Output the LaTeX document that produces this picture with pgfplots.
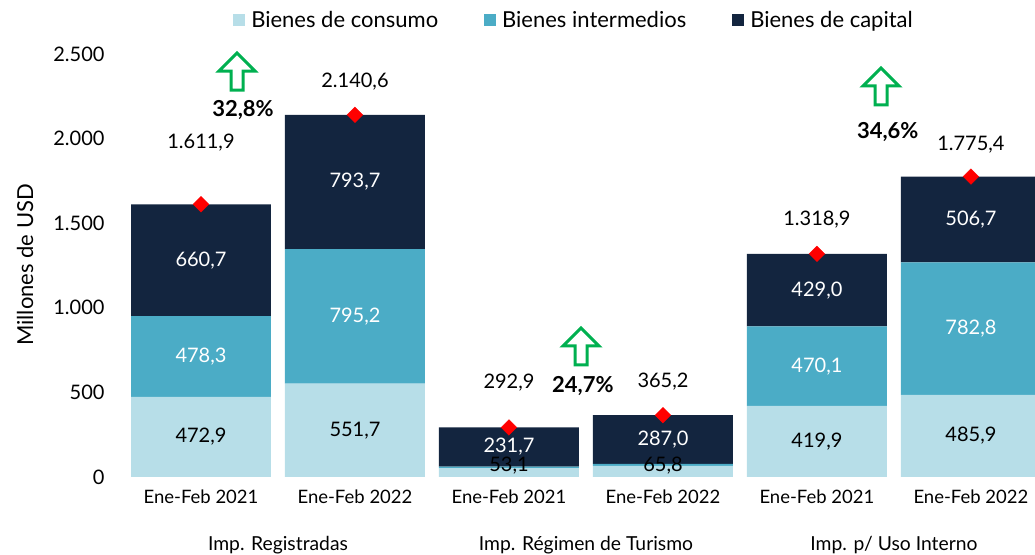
\documentclass[border=0pt]{standalone}
\usepackage{pgfplots}
\pgfplotsset{compat=1.18}
\usepackage{fontspec}
\setmainfont{Lato}

\definecolor{consumo}{HTML}{B7DEE8}
\definecolor{interm}{HTML}{4BACC6}
\definecolor{capital}{HTML}{13253F}
\definecolor{verde}{HTML}{00B050}

\newcommand{\fa}{\fontsize{20bp}{24bp}\selectfont}
\newcommand{\fb}{\fontsize{18.5bp}{22bp}\selectfont}
\newcommand{\fc}{\fontsize{22bp}{26bp}\selectfont}
\newcommand{\fd}{\fontsize{19.3bp}{23bp}\selectfont}

\pgfplotsset{
  base/.style={
    at={(124bp,78bp)}, anchor=south west,
    scale only axis, width=911bp, height=423bp,
    xmin=-0.5, xmax=5.416, ymin=0, ymax=2500,
  },
}
\tikzset{
  flecha/.pic={
    \draw[draw=verde, line width=3bp, fill=white, line join=miter]
      (-6bp,0)--(6bp,0)--(6bp,19bp)--(18bp,19bp)--(0,37bp)--(-18bp,19bp)--(-6bp,19bp)--cycle;
  },
}

\begin{document}
\begin{tikzpicture}
\useasboundingbox (0,0) rectangle (1035bp,555bp);

% barras apiladas
\begin{axis}[base,
    ybar stacked, bar width=0.909,
    axis line style={draw=none}, tick style={draw=none},
    ytick={0,500,...,2500}, scaled y ticks=false,
    yticklabel style={font=\fa, xshift=-16bp,
      /pgf/number format/.cd, 1000 sep={.}, assume math mode=true},
    xtick={0,...,5},
    xticklabels={Ene-Feb 2021,Ene-Feb 2022,Ene-Feb 2021,Ene-Feb 2022,Ene-Feb 2021,Ene-Feb 2022},
    xticklabel style={font=\fb, yshift=-9bp},
    legend columns=3,
    legend style={draw=none, fill=none, font=\fc, at={(0.494,1.080)}, anchor=center,
      /tikz/every even column/.append style={column sep=44bp}},
    legend image code/.code={\fill[#1] (0bp,-6bp) rectangle (12bp,6bp); \path (16bp,0);},
  ]
  \addplot[fill=consumo, draw=none] coordinates {(0,472.9) (1,551.7) (2,53.1) (3,65.8) (4,419.9) (5,485.9)};
  \addplot[fill=interm, draw=none] coordinates {(0,478.3) (1,795.2) (2,8.1) (3,12.4) (4,470.1) (5,782.8)};
  \addplot[fill=capital, draw=none] coordinates {(0,660.7) (1,793.7) (2,231.7) (3,287.0) (4,429.0) (5,506.7)};
  \legend{Bienes de consumo,Bienes intermedios,Bienes de capital}
\end{axis}

% totales, etiquetas y flechas
\begin{axis}[base, hide axis, clip=false]
  \addplot[only marks, mark=square*, mark size=5.5bp, color=red,
    mark options={rotate=45}]
    coordinates {(0,1611.9) (1,2140.6) (2,292.9) (3,365.2) (4,1318.9) (5,1775.4)};
  % totales
  \addplot[draw=none, nodes near coords, point meta=explicit symbolic,
    nodes near coords align=center, every node near coord/.append style={font=\fa, text=black}]
    coordinates {(0,1974)[1.611,9] (1,2334)[2.140,6] (2,556)[292,9] (3,561)[365,2] (4,1519)[1.318,9] (5,1962)[1.775,4]};
  % bienes de consumo
  \addplot[draw=none, nodes near coords, point meta=explicit symbolic,
    nodes near coords align=center, every node near coord/.append style={font=\fa, text=black}]
    coordinates {(0,236.5)[472,9] (1,275.9)[551,7] (2,68)[53,1] (3,68)[65,8] (4,210)[419,9] (5,243)[485,9]};
  % bienes intermedios
  \addplot[draw=none, nodes near coords, point meta=explicit symbolic,
    nodes near coords align=center, every node near coord/.append style={font=\fa, text=white}]
    coordinates {(0,712)[478,3] (1,949.3)[795,2] (4,655)[470,1] (5,877.3)[782,8]};
  % bienes de capital
  \addplot[draw=none, nodes near coords, point meta=explicit symbolic,
    nodes near coords align=center, every node near coord/.append style={font=\fa, text=white}]
    coordinates {(0,1281.6)[660,7] (1,1743.8)[793,7] (2,177)[231,7] (3,221.7)[287,0] (4,1104.5)[429,0] (5,1522)[506,7]};

  \coordinate (f1) at (axis cs:0.234,2287);
  \coordinate (f2) at (axis cs:2.468,662);
  \coordinate (f3) at (axis cs:4.416,2199);
  \node[font=\fc\bfseries] at (axis cs:0.273,2170) {32,8\%};
  \node[font=\fc\bfseries] at (axis cs:2.48,535) {24,7\%};
  \node[font=\fc\bfseries] at (axis cs:4.46,2040) {34,6\%};

  \node[font=\fd] at (axis cs:0.5,0) [yshift=-68bp] {Imp. Registradas};
  \node[font=\fd] at (axis cs:2.5,0) [yshift=-68bp] {Imp. Régimen de Turismo};
  \node[font=\fd] at (axis cs:4.5,0) [yshift=-68bp] {Imp. p/ Uso Interno};
\end{axis}

\pic at (f1) {flecha};
\pic at (f2) {flecha};
\pic at (f3) {flecha};
\node[rotate=90, font=\fc] at (25bp,290bp) {Millones de USD};
\end{tikzpicture}
\end{document}
